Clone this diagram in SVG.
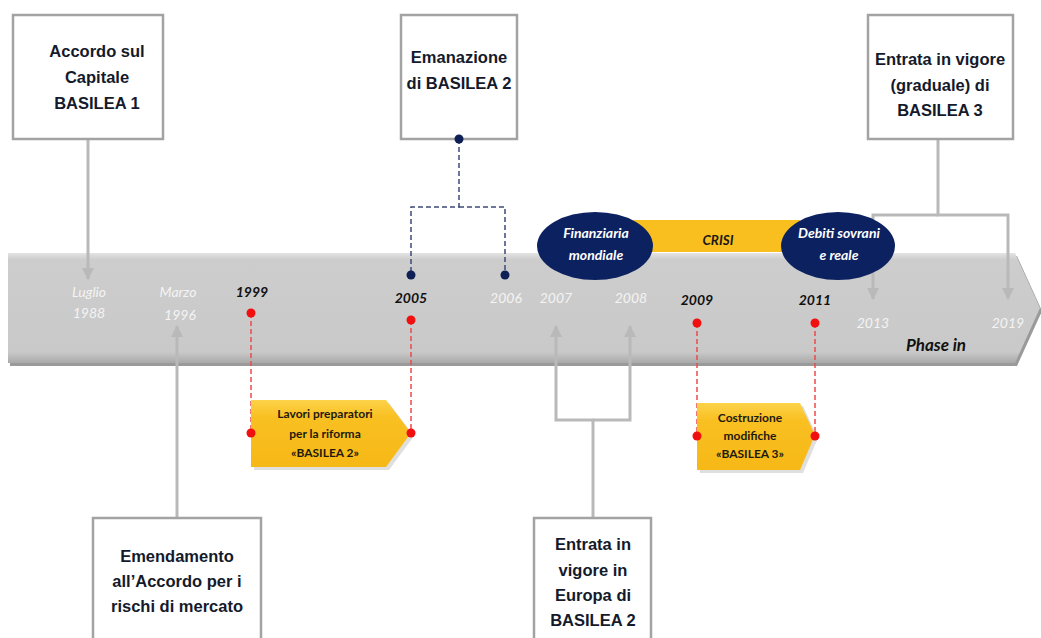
<svg xmlns="http://www.w3.org/2000/svg" width="1041" height="638" viewBox="0 0 1041 638">
<defs>
<style>
.box{fill:#fff;stroke:#a3a3a3;stroke-width:2.5}
.bt{font-family:"Liberation Sans",Arial,sans-serif;font-weight:bold;font-size:16.5px;fill:#141a2b;text-anchor:middle}
.conn{fill:none;stroke:#b9b9b9;stroke-width:3}
.navyd{fill:none;stroke:#3c4a78;stroke-width:1.5;stroke-dasharray:5 3}
.redd{fill:none;stroke:#f04a4a;stroke-width:1.5;stroke-dasharray:5 3}
.yr{font-family:Lato,"Noto Sans",sans-serif;font-style:italic;font-size:14px;text-anchor:middle}
.wy{fill:#f4f4f4}
.ky{fill:#111;font-weight:bold}
.yel{fill:#f9bf1e}
.yt{font-family:Lato,"Noto Sans",sans-serif;font-weight:bold;font-size:12px;fill:#1e1a10;text-anchor:middle}
.ell{fill:#0c2160}
.et{font-family:Lato,"Noto Sans",sans-serif;font-style:italic;font-weight:bold;font-size:14px;fill:#fff;text-anchor:middle}
.nd{fill:#0d1f55}
.rd{fill:#f01010}
</style>
<marker id="ah" viewBox="0 0 12 12" refX="11" refY="6" markerWidth="12" markerHeight="12" markerUnits="userSpaceOnUse" orient="auto">
<path d="M0,0 L12,6 L0,12 Z" fill="#b9b9b9"/>
</marker>
<linearGradient id="bar" x1="0" y1="0" x2="0" y2="1">
<stop offset="0" stop-color="#e4e4e4"/>
<stop offset="0.06" stop-color="#cdcdcd"/>
<stop offset="0.9" stop-color="#c9c9c9"/>
<stop offset="1" stop-color="#a9a9a9"/>
</linearGradient>
<linearGradient id="yg" x1="0" y1="0" x2="0" y2="1">
<stop offset="0" stop-color="#fcd34a"/>
<stop offset="0.25" stop-color="#f9c022"/>
<stop offset="1" stop-color="#f6b816"/>
</linearGradient>
</defs>

<!-- main timeline bar -->
<g id="bar-timeline">
<polygon points="10,256 1017,256 1042,311 1017,366 10,366" fill="#9a9a9a"/>
<polygon points="8,253 1015,253 1040,308 1015,363 8,363" fill="url(#bar)"/>
</g>

<!-- CRISI band -->
<g id="crisi">
<rect x="600" y="220" width="200" height="32" class="yel"/>
<text x="718" y="245" font-family="Lato,'Noto Sans',sans-serif" font-style="italic" font-weight="bold" font-size="13.5" fill="#1a1a1a" text-anchor="middle">CRISI</text>
</g>

<!-- connectors -->
<g id="connectors">
<path class="conn" d="M88,139 V279" marker-end="url(#ah)"/>
<path class="conn" d="M938,139 V215 H1008 V299" marker-end="url(#ah)"/>
<path class="conn" d="M938,215 H873 V299" marker-end="url(#ah)"/>
<path class="conn" d="M177,517 V326" marker-end="url(#ah)"/>
<path class="conn" d="M593,517 V420 H556 V326" marker-end="url(#ah)"/>
<path class="conn" d="M593,420 H630 V326" marker-end="url(#ah)"/>
<path class="navyd" d="M459,139 V207 H411 V275"/>
<path class="navyd" d="M459,207 H505 V275"/>
<path class="redd" d="M251,313 V433"/>
<path class="redd" d="M411,320 V433"/>
<path class="redd" d="M697,323 V436"/>
<path class="redd" d="M815,323 V436"/>
</g>

<!-- ellipses -->
<g id="ell-finanziaria">
<ellipse cx="595" cy="246" rx="58" ry="34" class="ell"/>
<text class="et" x="596" y="238">Finanziaria</text>
<text class="et" x="596" y="260">mondiale</text>
</g>
<g id="ell-debiti">
<ellipse cx="838" cy="246" rx="57" ry="34" class="ell"/>
<text class="et" x="839" y="238">Debiti sovrani</text>
<text class="et" x="839" y="260">e reale</text>
</g>

<!-- top boxes -->
<g id="box-basilea1">
<rect class="box" x="13" y="15" width="150" height="124"/>
<text class="bt" x="97" y="57">Accordo sul</text>
<text class="bt" x="97" y="83">Capitale</text>
<text class="bt" x="97" y="109">BASILEA 1</text>
</g>
<g id="box-emanazione">
<rect class="box" x="401" y="15" width="116" height="124"/>
<text class="bt" x="459" y="63">Emanazione</text>
<text class="bt" x="459" y="89">di BASILEA 2</text>
</g>
<g id="box-basilea3">
<rect class="box" x="868" y="15" width="145" height="124"/>
<text class="bt" x="940" y="65">Entrata in vigore</text>
<text class="bt" x="940" y="91">(graduale) di</text>
<text class="bt" x="940" y="116">BASILEA 3</text>
</g>

<!-- bottom boxes -->
<g id="box-emendamento">
<rect class="box" x="93" y="518" width="168" height="130"/>
<text class="bt" x="177" y="562">Emendamento</text>
<text class="bt" x="177" y="587">all’Accordo per i</text>
<text class="bt" x="177" y="612">rischi di mercato</text>
</g>
<g id="box-europa">
<rect class="box" x="534" y="518" width="117" height="130"/>
<text class="bt" x="593" y="550">Entrata in</text>
<text class="bt" x="593" y="576">vigore in</text>
<text class="bt" x="593" y="601">Europa di</text>
<text class="bt" x="593" y="626">BASILEA 2</text>
</g>

<!-- yellow arrows -->
<g id="arrow-lavori">
<polygon points="254,403 389,403 414,436 389,470 254,470" fill="#c9c9c9" opacity="0.6"/>
<polygon points="251,400 386,400 411,433 386,467 251,467" fill="url(#yg)"/>
<text class="yt" x="325" y="418">Lavori preparatori</text>
<text class="yt" x="325" y="438">per la riforma</text>
<text class="yt" x="325" y="457">«BASILEA 2»</text>
</g>
<g id="arrow-costruzione">
<polygon points="700,406 803,406 818,438 803,473 700,473" fill="#c9c9c9" opacity="0.6"/>
<polygon points="697,403 800,403 815,435 800,470 697,470" fill="url(#yg)"/>
<text class="yt" x="750" y="422">Costruzione</text>
<text class="yt" x="750" y="440">modifiche</text>
<text class="yt" x="750" y="458">«BASILEA 3»</text>
</g>

<!-- dots -->
<g id="dots">
<circle class="nd" cx="459" cy="139" r="4.5"/>
<circle class="nd" cx="411" cy="275" r="4.5"/>
<circle class="nd" cx="505" cy="275" r="4.5"/>
<circle class="rd" cx="251" cy="313" r="4.5"/>
<circle class="rd" cx="411" cy="320" r="4.5"/>
<circle class="rd" cx="697" cy="323" r="4.5"/>
<circle class="rd" cx="815" cy="323" r="4.5"/>
<circle class="rd" cx="251" cy="433" r="4.5"/>
<circle class="rd" cx="411" cy="433" r="4.5"/>
<circle class="rd" cx="697" cy="436" r="4.5"/>
<circle class="rd" cx="815" cy="436" r="4.5"/>
</g>

<!-- year labels -->
<g id="years">
<text class="yr wy" x="89" y="297">Luglio</text>
<text class="yr wy" x="89" y="318">1988</text>
<text class="yr wy" x="178" y="297">Marzo</text>
<text class="yr wy" x="180" y="320">1996</text>
<text class="yr ky" x="252" y="297">1999</text>
<text class="yr ky" x="411" y="303">2005</text>
<text class="yr wy" x="506" y="303">2006</text>
<text class="yr wy" x="556" y="303">2007</text>
<text class="yr wy" x="631" y="303">2008</text>
<text class="yr ky" x="697" y="305">2009</text>
<text class="yr ky" x="815" y="305">2011</text>
<text class="yr wy" x="873" y="328">2013</text>
<text class="yr wy" x="1008" y="328">2019</text>
<text x="936" y="351" font-family="Lato,'Noto Sans',sans-serif" font-style="italic" font-weight="bold" font-size="17" fill="#111" text-anchor="middle">Phase in</text>
</g>
</svg>
